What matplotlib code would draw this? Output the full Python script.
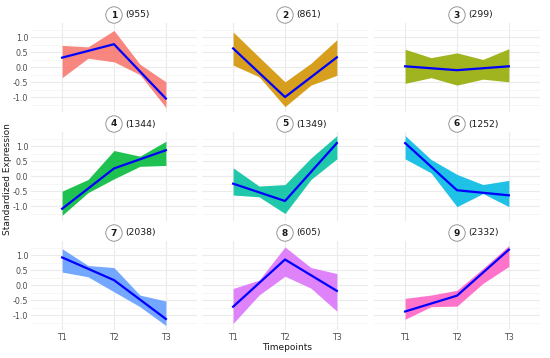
import matplotlib.pyplot as plt
from matplotlib.patches import Circle

# cluster summary
cluster_ids = [1, 2, 3, 4, 5, 6, 7, 8, 9]
cluster_sizes = [955, 861, 299, 1344, 1349, 1252, 2038, 605, 2332]
timepoints = ['T1', 'T2', 'T3']
colors = ['#F8766D', '#D39200', '#93AA00', '#00BA38', '#00C19F',
          '#00B9E3', '#619CFF', '#DB72FB', '#FF61C3']

mean_profiles = [
    [0.32, 0.77, -1.05],
    [0.63, -1.00, 0.33],
    [0.03, -0.10, 0.03],
    [-1.09, 0.26, 0.87],
    [-0.25, -0.83, 1.11],
    [1.11, -0.47, -0.64],
    [0.93, 0.17, -1.13],
    [-0.72, 0.86, -0.19],
    [-0.88, -0.35, 1.19],
]

# envelope of the member genes, sampled at T1, T1.5, T2, T2.5, T3
env_x = [1, 1.5, 2, 2.5, 3]
upper = [
    [0.73, 0.68, 1.23, 0.10, -0.49],
    [1.18, 0.34, -0.49, 0.13, 0.92],
    [0.60, 0.32, 0.48, 0.26, 0.62],
    [-0.50, -0.11, 0.86, 0.67, 1.17],
    [0.28, -0.33, -0.28, 0.61, 1.36],
    [1.36, 0.56, 0.06, -0.28, -0.14],
    [1.22, 0.66, 0.59, -0.33, -0.53],
    [-0.11, 0.17, 1.28, 0.59, 0.39],
    [-0.44, -0.33, -0.17, 0.56, 1.33],
]
lower = [
    [-0.35, 0.30, 0.18, -0.25, -1.35],
    [0.07, -0.32, -1.32, -0.60, -0.27],
    [-0.54, -0.35, -0.60, -0.40, -0.49],
    [-1.31, -0.55, -0.09, 0.33, 0.36],
    [-0.63, -0.69, -1.25, -0.11, 0.58],
    [0.58, 0.11, -1.02, -0.58, -1.02],
    [0.44, 0.28, -0.22, -0.72, -1.35],
    [-1.28, -0.33, 0.30, -0.10, -0.87],
    [-1.14, -0.72, -0.70, 0.06, 0.63],
]

W, H = 550, 358
fig = plt.figure(figsize=(5.5, 3.58), dpi=100)

col_left = [31, 202, 374]
row_top = [23, 132, 241]
pw, ph = 166, 89
grid_col = '#EBEBEB'

for i in range(9):
    r, c = divmod(i, 3)
    ax = fig.add_axes([col_left[c] / W, 1 - (row_top[r] + ph) / H, pw / W, ph / H])
    ax.set_xlim(0.4, 3.6)
    ax.set_ylim(-1.5, 1.48)
    for s in ax.spines.values():
        s.set_visible(False)
    ax.set_yticks([-1, -0.5, 0, 0.5, 1])
    ax.set_yticks([-1.25, -0.75, -0.25, 0.25, 0.75, 1.25], minor=True)
    ax.set_xticks([1, 2, 3])
    ax.grid(True, which='major', color=grid_col, lw=0.8)
    ax.grid(True, which='minor', axis='y', color='#F3F3F3', lw=0.5)
    ax.tick_params(which='both', length=0, labelsize=5.7, labelcolor='#4D4D4D', pad=2)
    if c == 0:
        ax.set_yticklabels(['-1.0', '-0.5', '0.0', '0.5', '1.0'])
    else:
        ax.set_yticklabels([])
    if r == 2:
        ax.set_xticklabels(timepoints)
    else:
        ax.set_xticklabels([])
    ax.set_axisbelow(True)

    ax.fill_between(env_x, lower[i], upper[i], color=colors[i], alpha=0.88, lw=0)
    ax.plot([1, 2, 3], mean_profiles[i], color='blue', lw=1.6)

    # strip label: circled id + cluster size
    cx_px = col_left[c] + pw / 2
    cy_px = row_top[r] - 8
    circ = Circle((cx_px / 100, (H - cy_px) / 100), 0.082,
                  transform=fig.dpi_scale_trans, facecolor='white',
                  edgecolor='#888888', lw=0.6)
    fig.add_artist(circ)
    fig.text(cx_px / W, 1 - cy_px / H, str(cluster_ids[i]), ha='center', va='center',
             fontsize=6.5, fontweight='bold', color='#1A1A1A')
    fig.text((cx_px + 11) / W, 1 - cy_px / H, '(%d)' % cluster_sizes[i],
             ha='left', va='center', fontsize=6.7, color='#1A1A1A')

fig.text(8 / W, 0.5, 'Standardized Expression', rotation=90, ha='center',
         va='center', fontsize=6.5, color='#1A1A1A')
fig.text(287 / W, 1 - 347 / H, 'Timepoints', ha='center', va='center',
         fontsize=6.5, color='#1A1A1A')

fig.savefig('out.png', dpi=100, facecolor='white')
